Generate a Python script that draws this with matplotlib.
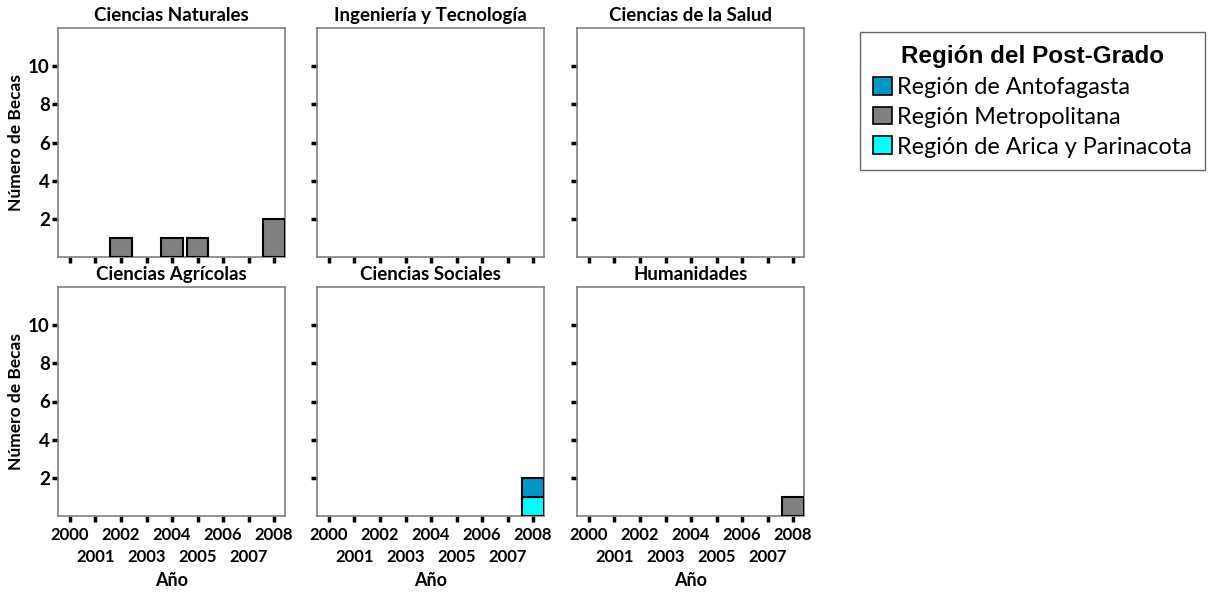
import numpy as np
import matplotlib
matplotlib.use("Agg")
import matplotlib.pyplot as plt
from matplotlib.patches import Patch

plt.rcParams['font.family'] = ['Lato', 'DejaVu Sans']

years = np.arange(2000, 2009)
panels = ["Ciencias Naturales", "Ingeniería y Tecnología", "Ciencias de la Salud",
          "Ciencias Agrícolas", "Ciencias Sociales", "Humanidades"]
regions = ["Región de Antofagasta", "Región Metropolitana", "Región de Arica y Parinacota"]
colors = {"Región de Antofagasta": "#0096c8",
          "Región Metropolitana": "#808080",
          "Región de Arica y Parinacota": "#00ffff"}

# counts per panel, per region, per year (2000..2008)
zeros = [0] * 9
counts = {
    "Ciencias Naturales": {"Región Metropolitana": [0, 0, 1, 0, 1, 1, 0, 0, 2]},
    "Ingeniería y Tecnología": {},
    "Ciencias de la Salud": {},
    "Ciencias Agrícolas": {},
    "Ciencias Sociales": {"Región de Arica y Parinacota": [0, 0, 0, 0, 0, 0, 0, 0, 1],
                          "Región de Antofagasta": [0, 0, 0, 0, 0, 0, 0, 0, 1]},
    "Humanidades": {"Región Metropolitana": [0, 0, 0, 0, 0, 0, 0, 0, 1]},
}
stack_order = ["Región de Arica y Parinacota", "Región Metropolitana", "Región de Antofagasta"]
yticks = [2, 4, 6, 8, 10]

W, H = 1211, 594
fig = plt.figure(figsize=(W / 100, H / 100), dpi=100)
lefts = [58, 317, 577]
tops = [28, 287]
aw, ah = 227, 229

x = np.arange(len(years))
even = x[::2]
odd = x[1::2]

for k, name in enumerate(panels):
    r, c = divmod(k, 3)
    ax = fig.add_axes([lefts[c] / W, 1 - (tops[r] + ah) / H, aw / W, ah / H])
    bottom = np.zeros(len(years))
    for reg in stack_order:
        vals = np.array(counts[name].get(reg, zeros), dtype=float)
        if vals.sum() == 0:
            continue
        mask = vals > 0
        ax.bar(x[mask], vals[mask], width=0.85, bottom=bottom[mask],
               color=colors[reg], edgecolor="black", linewidth=1.5, zorder=3)
        bottom += vals
    ax.set_xlim(-0.47, 8.43)
    ax.set_ylim(0, 12)
    ax.set_yticks(yticks)
    ax.set_xticks(even)
    ax.set_xticks(odd, minor=True)
    for s in ax.spines.values():
        s.set_color("#808080")
        s.set_linewidth(1.2)
    ax.tick_params(axis="both", which="both", length=4, width=2.5, color="black",
                   direction="out", pad=2)
    ax.tick_params(axis="x", which="major", pad=4)
    ax.tick_params(axis="x", which="minor", pad=20)
    ax.set_title(name, fontsize=13.5, fontweight="bold", pad=5)
    if c == 0:
        ax.set_yticklabels([str(v) for v in yticks], fontsize=13.5, fontweight="bold")
        ax.set_ylabel("Número de Becas", fontsize=12.5, fontweight="bold", labelpad=3)
    else:
        ax.set_yticklabels([])
    if r == 1:
        ax.set_xticklabels([str(years[i]) for i in even], fontsize=12, fontweight="bold")
        ax.set_xticklabels([str(years[i]) for i in odd], minor=True, fontsize=12,
                           fontweight="bold")
        ax.set_xlabel("Año", fontsize=13, fontweight="bold", labelpad=5)
    else:
        ax.set_xticklabels([])
        ax.set_xticklabels([], minor=True)

handles = [Patch(facecolor=colors[reg], edgecolor="black", linewidth=1.2) for reg in regions]
leg = fig.legend(handles, regions, loc="upper left", bbox_to_anchor=(860 / W, 1 - 32 / H),
                 title="Región del Post-Grado", fontsize=16.8, frameon=True, fancybox=False,
                 edgecolor="#404040", handlelength=0.8, handleheight=0.8, handletextpad=0.25,
                 borderpad=0.55, labelspacing=0.38, borderaxespad=0)
leg.get_title().set_fontsize(17.5)
leg.get_title().set_fontweight("bold")
leg.get_title().set_family(["Liberation Sans", "DejaVu Sans"])
leg.get_frame().set_linewidth(1.0)

fig.savefig("out.png", dpi=100)
